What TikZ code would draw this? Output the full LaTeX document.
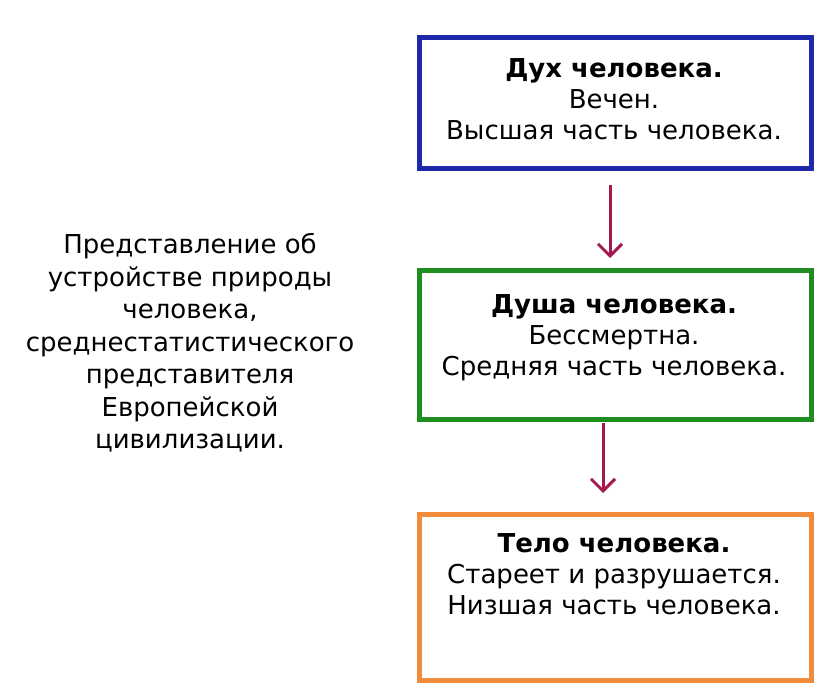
\documentclass[tikz,border=0pt]{standalone}
\usepackage{fontspec}
\setmainfont{DejaVu Sans}
\usetikzlibrary{arrows.meta}
\definecolor{cblue}{RGB}{30,40,170}
\definecolor{cgreen}{RGB}{30,140,30}
\definecolor{corange}{RGB}{240,140,60}
\definecolor{carrow}{RGB}{165,25,80}
\begin{document}
\begin{tikzpicture}[x=1pt,y=-1pt,
  box/.style={draw,line width=5pt,minimum width=392pt,anchor=north west,inner sep=0pt},
  txt/.style={align=center,font=\fontsize{26}{31}\selectfont},
  arr/.style={draw=carrow,line width=3pt,-{Straight Barb[length=12pt,width=24pt,line width=3pt]}}]
\useasboundingbox (0,0) rectangle (837,699);
\node[box,draw=cblue,minimum height=131pt] (a) at (417,35) {};
\node[box,draw=cgreen,minimum height=149pt] (b) at (417,268) {};
\node[box,draw=corange,minimum height=166pt] (c) at (417,512) {};
\node[txt] (at) at (614,99) {\textbf{Дух человека.}\\Вечен.\\Высшая часть человека.};
\node[txt] (bt) at (614,338) {\textbf{Душа человека.}\\Бессмертна.\\Средняя часть человека.};
\node[txt] (ct) at (614,574) {\textbf{Тело человека.}\\Стареет и разрушается.\\Низшая часть человека.};
\coordinate (a1) at (610,185); \coordinate (b1) at (610,258);
\coordinate (b2) at (603,423); \coordinate (c2) at (603,493);
\draw[arr] (a1) -- (b1);
\draw[arr] (b2) -- (c2);
\node[txt,font=\fontsize{26}{32.5}\selectfont] (t) at (190,343) {Представление об\\устройстве природы\\человека,\\среднестатистического\\представителя\\Европейской\\цивилизации.};
\end{tikzpicture}
\end{document}
